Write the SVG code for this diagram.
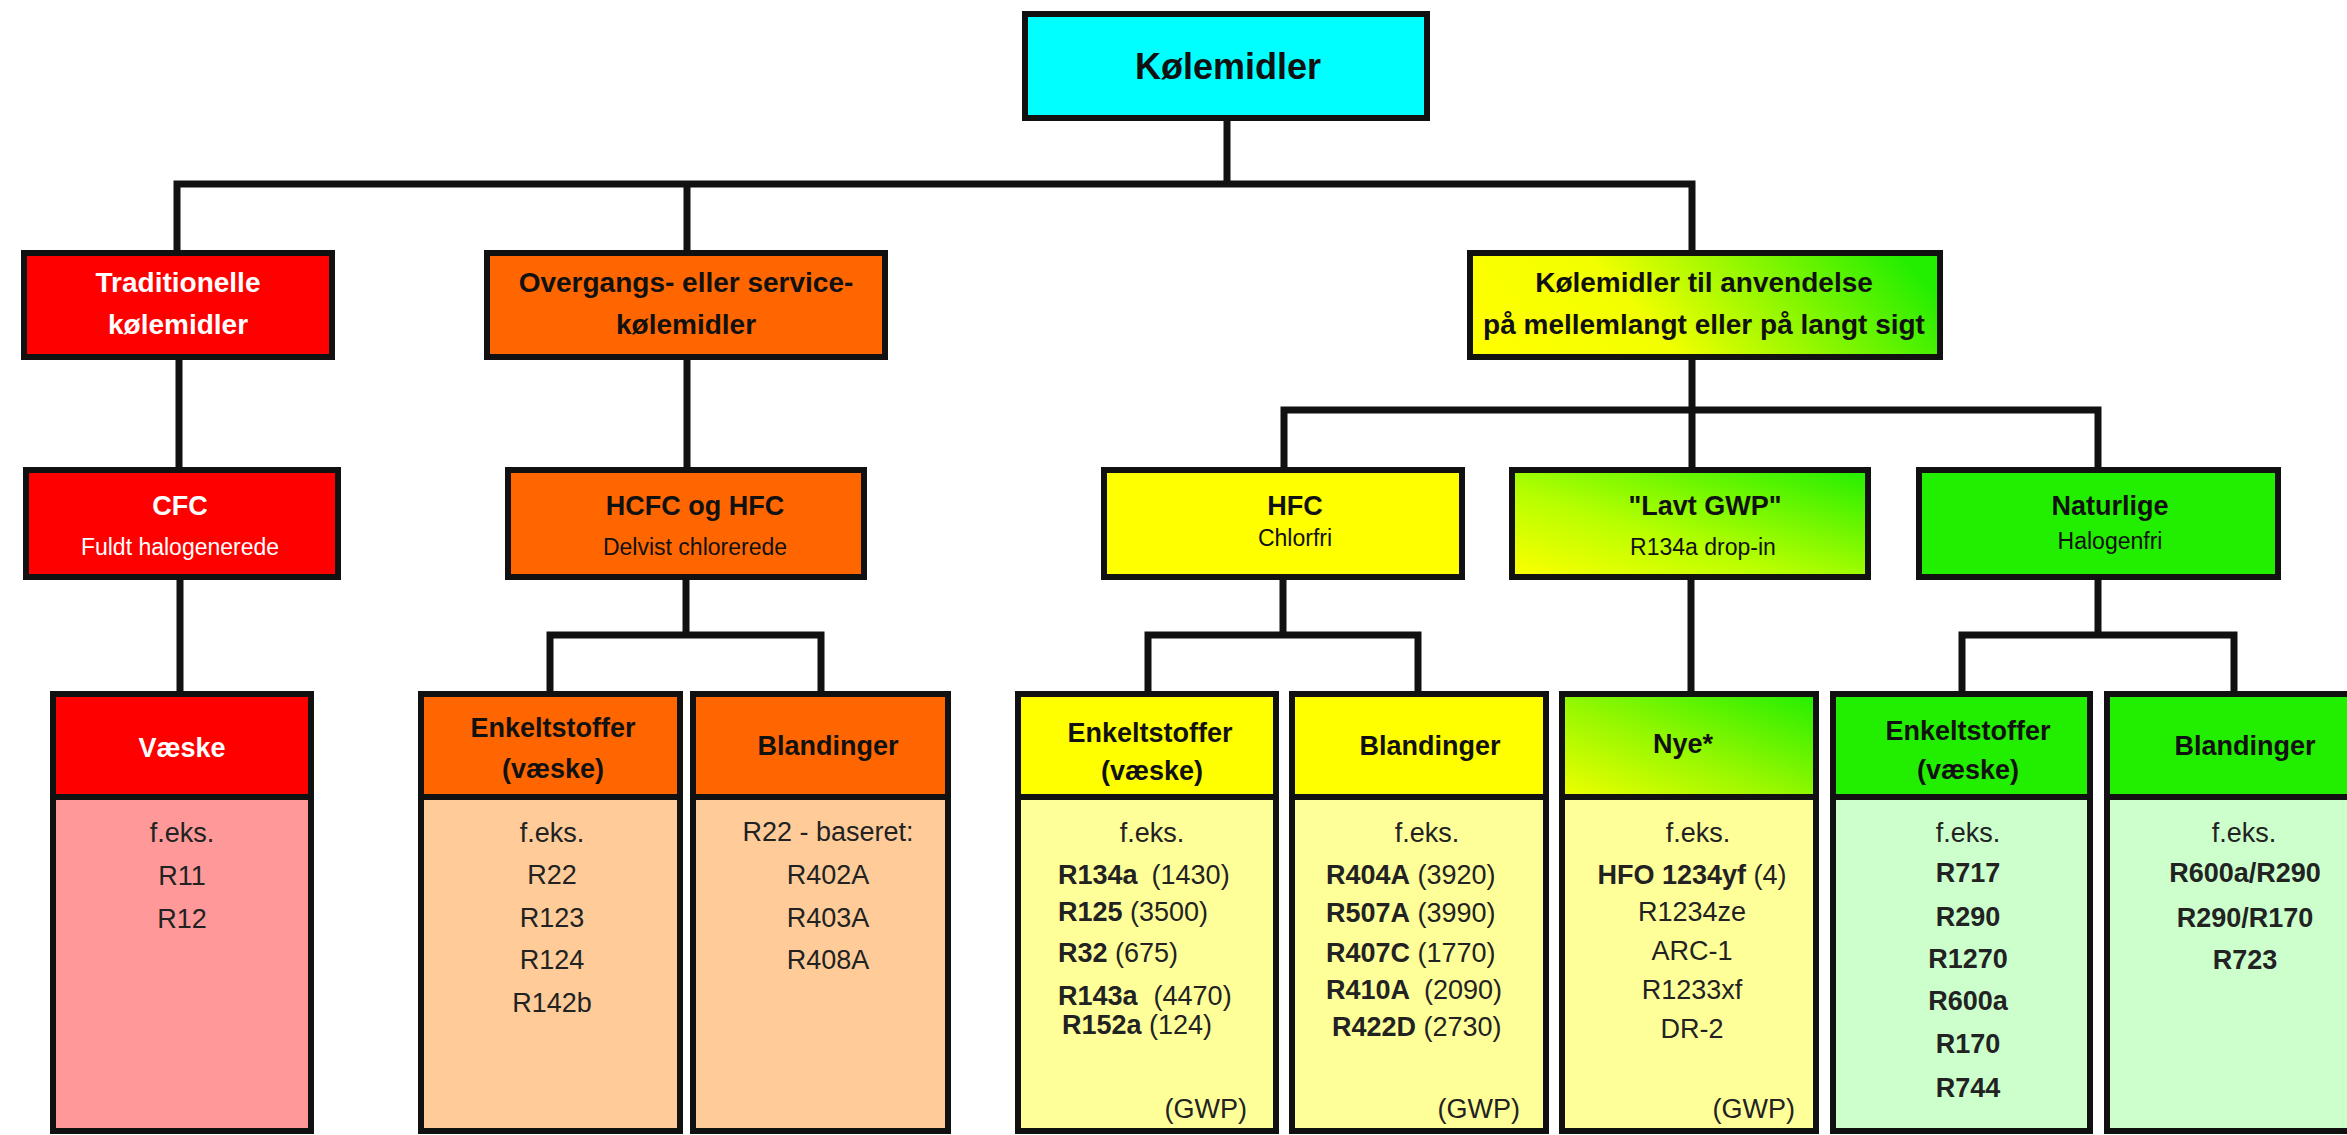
<svg xmlns="http://www.w3.org/2000/svg" width="2347" height="1135" viewBox="0 0 2347 1135">
<defs>
<linearGradient id="gAnv" x1="0" y1="0.6" x2="1" y2="0.4">
<stop offset="0" stop-color="#FFFF00"/><stop offset="0.35" stop-color="#F2FF00"/><stop offset="1" stop-color="#22EE00"/>
</linearGradient>
<linearGradient id="gLav" x1="0" y1="1" x2="1" y2="0">
<stop offset="0" stop-color="#FFFF00"/><stop offset="0.4" stop-color="#B8FF00"/><stop offset="1" stop-color="#22EE00"/>
</linearGradient>
<linearGradient id="gNye" x1="0" y1="1" x2="1" y2="0">
<stop offset="0" stop-color="#F0FF00"/><stop offset="0.45" stop-color="#99F800"/><stop offset="1" stop-color="#22EE00"/>
</linearGradient>
<style>
text{font-family:"Liberation Sans",Arial,sans-serif;text-anchor:middle;fill:#111}
.box{stroke:#111;stroke-width:6}
.conn{stroke:#111;stroke-width:7;fill:none;stroke-linecap:square}
.root{font-size:36px;font-weight:bold}
.l1{font-size:28px;font-weight:bold}
.t2{font-size:27px;font-weight:bold}
.s2{font-size:23px}
.h3{font-size:27px;font-weight:bold}
.bd{font-size:27px;fill:#222}
.b{font-weight:bold}
.w{fill:#fff}
.st{text-anchor:start}
.en{text-anchor:end}
.red{fill:#FF0000}.pink{fill:#FF9999}
.org{fill:#FF6600}.lorg{fill:#FFCC99}
.yel{fill:#FFFF00}.lyel{fill:#FFFF99}
.grn{fill:#22EE00}.lgrn{fill:#CCFFCC}
</style>
</defs>
<rect width="2347" height="1135" fill="#fff"/>

<g id="connectors">
<path class="conn" d="M1227 118V184M177 184H1692M177 184V253M687 184V253M1692 184V253"/>
<path class="conn" d="M179 357V470M687 357V470"/>
<path class="conn" d="M1692 357V410M1284 410H2098M1284 410V470M1692 410V470M2098 410V470"/>
<path class="conn" d="M180 577V693"/>
<path class="conn" d="M686 577V635M550 635H821M550 635V693M821 635V693"/>
<path class="conn" d="M1283 577V635M1148 635H1418M1148 635V693M1418 635V693"/>
<path class="conn" d="M1691 577V693"/>
<path class="conn" d="M2098 577V635M1962 635H2234M1962 635V693M2234 635V693"/>
</g>

<g id="root">
<rect class="box" x="1025" y="14" width="402" height="104" fill="#00FFFF"/>
<text class="root" x="1228" y="79">Kølemidler</text>
</g>

<g id="traditionelle">
<rect class="box red" x="24" y="253" width="308" height="104"/>
<text class="l1 w" x="178" y="292">Traditionelle</text>
<text class="l1 w" x="178" y="334">kølemidler</text>
</g>

<g id="overgangs">
<rect class="box org" x="487" y="253" width="398" height="104"/>
<text class="l1" x="686" y="292">Overgangs- eller service-</text>
<text class="l1" x="686" y="334">kølemidler</text>
</g>

<g id="anvendelse">
<rect class="box" x="1470" y="253" width="470" height="104" fill="url(#gAnv)"/>
<text class="l1" x="1704" y="292">Kølemidler til anvendelse</text>
<text class="l1" x="1704" y="334">på mellemlangt eller på langt sigt</text>
</g>

<g id="cfc">
<rect class="box red" x="26" y="470" width="312" height="107"/>
<text class="t2 w" x="180" y="515">CFC</text>
<text class="s2 w" x="180" y="555">Fuldt halogenerede</text>
</g>

<g id="hcfc">
<rect class="box org" x="508" y="470" width="356" height="107"/>
<text class="t2" x="695" y="515">HCFC og HFC</text>
<text class="s2" x="695" y="555">Delvist chlorerede</text>
</g>

<g id="hfc">
<rect class="box yel" x="1104" y="470" width="358" height="107"/>
<text class="t2" x="1295" y="515">HFC</text>
<text class="s2" x="1295" y="546">Chlorfri</text>
</g>

<g id="lavtgwp">
<rect class="box" x="1512" y="470" width="356" height="107" fill="url(#gLav)"/>
<text class="t2" x="1705" y="515">"Lavt GWP"</text>
<text class="s2" x="1703" y="555">R134a drop-in</text>
</g>

<g id="naturlige">
<rect class="box grn" x="1919" y="470" width="359" height="107"/>
<text class="t2" x="2110" y="515">Naturlige</text>
<text class="s2" x="2110" y="549">Halogenfri</text>
</g>

<g id="vaeske">
<rect class="box pink" x="53" y="694" width="258" height="437"/>
<rect class="box red" x="53" y="694" width="258" height="103"/>
<text class="h3 w" x="182" y="757">Væske</text>
<text class="bd" x="182" y="842">f.eks.</text>
<text class="bd" x="182" y="885">R11</text>
<text class="bd" x="182" y="928">R12</text>
</g>

<g id="enkelt-orange">
<rect class="box lorg" x="421" y="694" width="259" height="437"/>
<rect class="box org" x="421" y="694" width="259" height="103"/>
<text class="h3" x="553" y="737">Enkeltstoffer</text>
<text class="h3" x="553" y="778">(væske)</text>
<text class="bd" x="552" y="842">f.eks.</text>
<text class="bd" x="552" y="884">R22</text>
<text class="bd" x="552" y="927">R123</text>
<text class="bd" x="552" y="969">R124</text>
<text class="bd" x="552" y="1012">R142b</text>
</g>

<g id="bland-orange">
<rect class="box lorg" x="693" y="694" width="255" height="437"/>
<rect class="box org" x="693" y="694" width="255" height="103"/>
<text class="h3" x="828" y="755">Blandinger</text>
<text class="bd" x="828" y="841">R22 - baseret:</text>
<text class="bd" x="828" y="884">R402A</text>
<text class="bd" x="828" y="927">R403A</text>
<text class="bd" x="828" y="969">R408A</text>
</g>

<g id="enkelt-yellow">
<rect class="box lyel" x="1018" y="694" width="258" height="437"/>
<rect class="box yel" x="1018" y="694" width="258" height="103"/>
<text class="h3" x="1150" y="742">Enkeltstoffer</text>
<text class="h3" x="1152" y="780">(væske)</text>
<text class="bd" x="1152" y="842">f.eks.</text>
<text class="bd st" x="1058" y="884"><tspan class="b">R134a</tspan><tspan dx="14">(1430)</tspan></text>
<text class="bd st" x="1058" y="921"><tspan class="b">R125</tspan> (3500)</text>
<text class="bd st" x="1058" y="962"><tspan class="b">R32</tspan> (675)</text>
<text class="bd st" x="1058" y="1005"><tspan class="b">R143a</tspan><tspan dx="16">(4470)</tspan></text>
<text class="bd st" x="1062" y="1034"><tspan class="b">R152a</tspan> (124)</text>
<text class="bd en" x="1247" y="1118">(GWP)</text>
</g>

<g id="bland-yellow">
<rect class="box lyel" x="1292" y="694" width="254" height="437"/>
<rect class="box yel" x="1292" y="694" width="254" height="103"/>
<text class="h3" x="1430" y="755">Blandinger</text>
<text class="bd" x="1427" y="842">f.eks.</text>
<text class="bd st" x="1326" y="884"><tspan class="b">R404A</tspan> (3920)</text>
<text class="bd st" x="1326" y="922"><tspan class="b">R507A</tspan> (3990)</text>
<text class="bd st" x="1326" y="962"><tspan class="b">R407C</tspan> (1770)</text>
<text class="bd st" x="1326" y="999"><tspan class="b">R410A</tspan><tspan dx="14">(2090)</tspan></text>
<text class="bd st" x="1332" y="1036"><tspan class="b">R422D</tspan> (2730)</text>
<text class="bd en" x="1520" y="1118">(GWP)</text>
</g>

<g id="nye">
<rect class="box lyel" x="1562" y="694" width="254" height="437"/>
<rect class="box" x="1562" y="694" width="254" height="103" fill="url(#gNye)"/>
<text class="h3" x="1683" y="753">Nye*</text>
<text class="bd" x="1698" y="842">f.eks.</text>
<text class="bd" x="1692" y="884"><tspan class="b">HFO 1234yf</tspan> (4)</text>
<text class="bd" x="1692" y="921">R1234ze</text>
<text class="bd" x="1692" y="960">ARC-1</text>
<text class="bd" x="1692" y="999">R1233xf</text>
<text class="bd" x="1692" y="1038">DR-2</text>
<text class="bd en" x="1795" y="1118">(GWP)</text>
</g>

<g id="enkelt-green">
<rect class="box lgrn" x="1833" y="694" width="257" height="437"/>
<rect class="box grn" x="1833" y="694" width="257" height="103"/>
<text class="h3" x="1968" y="740">Enkeltstoffer</text>
<text class="h3" x="1968" y="779">(væske)</text>
<text class="bd" x="1968" y="842">f.eks.</text>
<text class="bd b" x="1968" y="882">R717</text>
<text class="bd b" x="1968" y="926">R290</text>
<text class="bd b" x="1968" y="968">R1270</text>
<text class="bd b" x="1968" y="1010">R600a</text>
<text class="bd b" x="1968" y="1053">R170</text>
<text class="bd b" x="1968" y="1097">R744</text>
</g>

<g id="bland-green">
<rect class="box lgrn" x="2107" y="694" width="280" height="437"/>
<rect class="box grn" x="2107" y="694" width="280" height="103"/>
<text class="h3" x="2245" y="755">Blandinger</text>
<text class="bd" x="2244" y="842">f.eks.</text>
<text class="bd b" x="2245" y="882">R600a/R290</text>
<text class="bd b" x="2245" y="927">R290/R170</text>
<text class="bd b" x="2245" y="969">R723</text>
</g>
</svg>
